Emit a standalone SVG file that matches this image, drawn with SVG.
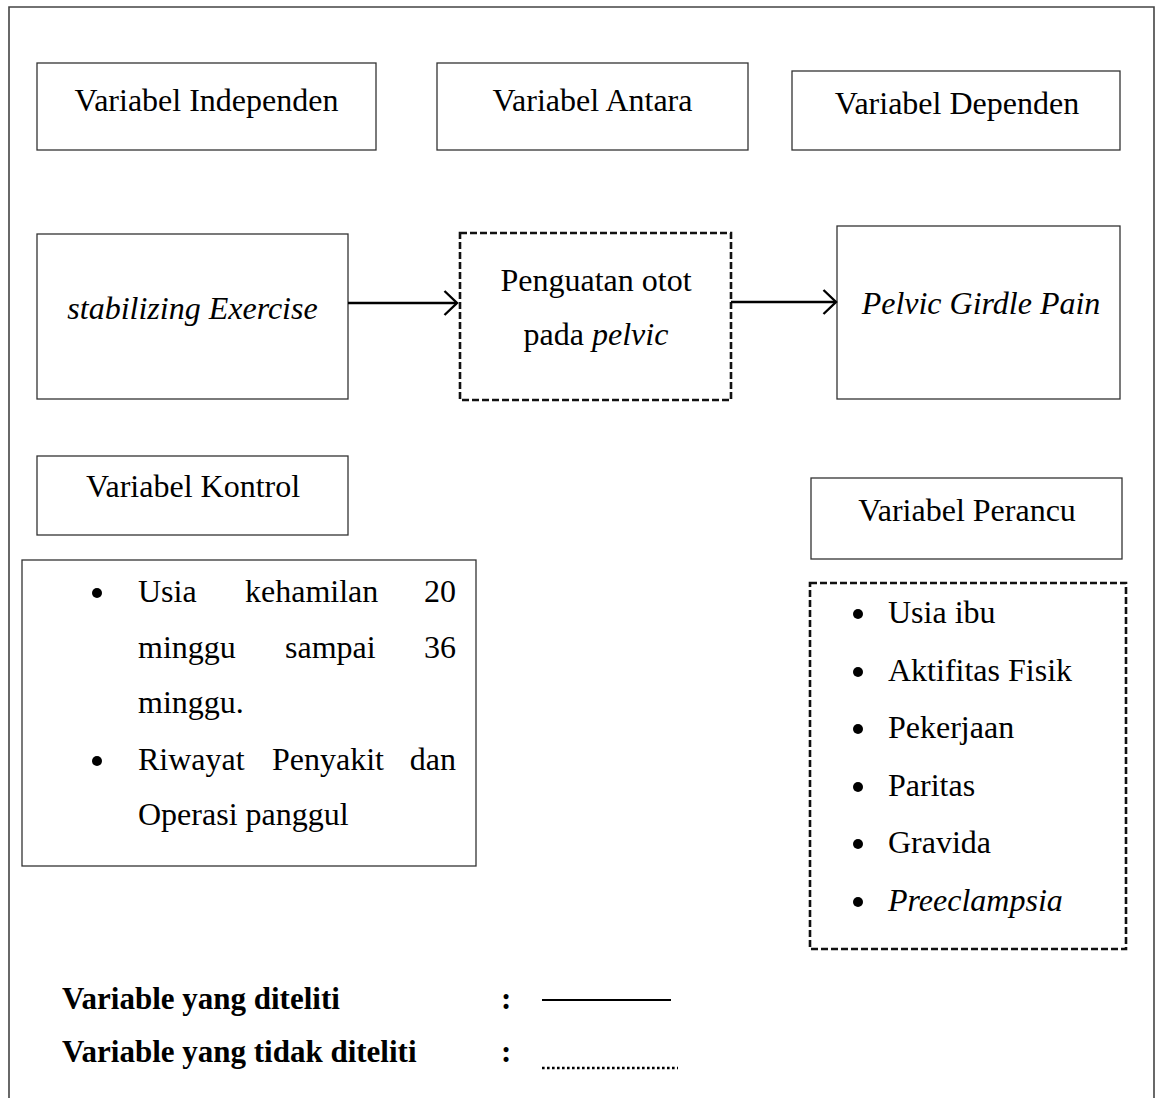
<svg xmlns="http://www.w3.org/2000/svg" width="1156" height="1098" viewBox="0 0 1156 1098">
<style>
text{font-family:"Liberation Serif","Times New Roman",serif;font-size:32px;fill:#000}
.c{text-anchor:middle}
.e{text-anchor:end}
.i{font-style:italic}
.b{font-weight:bold;font-size:31px}
.box{fill:#fff;stroke:#333;stroke-width:1.3}
.dbox{fill:#fff;stroke:#111;stroke-width:2.6;stroke-dasharray:7 3}
.conn{stroke:#000;stroke-width:2.4;fill:none}
.bul{fill:#000}
</style>
<defs>
<marker id="arr" markerWidth="16" markerHeight="28" refX="14" refY="14" orient="auto" markerUnits="userSpaceOnUse">
<path d="M1.5,2 L14,14 L1.5,26" fill="none" stroke="#000" stroke-width="2.4"/>
</marker>
</defs>
<rect width="1156" height="1098" fill="#fff"/>
<path id="frame" d="M9,1098 V7 H1154 V1098" fill="none" stroke="#444" stroke-width="1.6"/>

<g id="n-independen"><rect class="box" x="37" y="63" width="339" height="87"/><text class="c" x="206.5" y="111">Variabel Independen</text></g>
<g id="n-antara"><rect class="box" x="437" y="63" width="311" height="87"/><text class="c" x="592.5" y="111">Variabel Antara</text></g>
<g id="n-dependen"><rect class="box" x="792" y="71" width="328" height="79"/><text class="c" x="957" y="114">Variabel Dependen</text></g>

<g id="n-stabilizing"><rect class="box" x="37" y="234" width="311" height="165"/><text class="c i" x="192.5" y="319">stabilizing Exercise</text></g>
<g id="n-penguatan"><rect class="dbox" x="460" y="233" width="271" height="167"/><text class="c" x="596" y="291">Penguatan otot</text><text class="c" x="596" y="345">pada <tspan class="i">pelvic</tspan></text></g>
<g id="n-pgp"><rect class="box" x="837" y="226" width="283" height="173"/><text class="c i" x="981" y="314">Pelvic Girdle Pain</text></g>

<g id="n-kontrol"><rect class="box" x="37" y="456" width="311" height="79"/><text class="c" x="193" y="497">Variabel Kontrol</text></g>
<g id="n-perancu"><rect class="box" x="811" y="478" width="311" height="81"/><text class="c" x="967" y="521">Variabel Perancu</text></g>

<g id="n-kontrol-list"><rect class="box" x="22" y="560" width="454" height="306"/>
<circle class="bul" cx="97" cy="593" r="5"/>
<text x="138" y="602">Usia</text><text x="245" y="602">kehamilan</text><text class="e" x="456" y="602">20</text>
<text x="138" y="658">minggu</text><text x="285" y="658">sampai</text><text class="e" x="456" y="658">36</text>
<text x="138" y="713">minggu.</text>
<circle class="bul" cx="97" cy="761" r="5"/>
<text x="138" y="770">Riwayat</text><text x="272" y="770">Penyakit</text><text class="e" x="456" y="770">dan</text>
<text x="138" y="825">Operasi panggul</text>
</g>

<g id="n-perancu-list"><rect class="dbox" x="810" y="583" width="316" height="366"/>
<circle class="bul" cx="858" cy="614" r="5"/><text x="888" y="623">Usia ibu</text>
<circle class="bul" cx="858" cy="672" r="5"/><text x="888" y="681">Aktifitas Fisik</text>
<circle class="bul" cx="858" cy="729" r="5"/><text x="888" y="738">Pekerjaan</text>
<circle class="bul" cx="858" cy="787" r="5"/><text x="888" y="796">Paritas</text>
<circle class="bul" cx="858" cy="844" r="5"/><text x="888" y="853">Gravida</text>
<circle class="bul" cx="858" cy="902" r="5"/><text class="i" x="888" y="911">Preeclampsia</text>
</g>

<g id="connectors">
<line class="conn" x1="348" y1="303" x2="457" y2="303" marker-end="url(#arr)"/>
<line class="conn" x1="731" y1="302" x2="836" y2="302" marker-end="url(#arr)"/>
</g>

<g id="legend">
<text class="b" x="62" y="1009">Variable yang diteliti</text>
<text class="b" x="501" y="1009">:</text>
<line x1="542" y1="1000" x2="671" y2="1000" stroke="#000" stroke-width="1.8"/>
<text class="b" x="62" y="1062">Variable yang tidak diteliti</text>
<text class="b" x="501" y="1062">:</text>
<line x1="542" y1="1068" x2="678" y2="1068" stroke="#000" stroke-width="2.6" stroke-dasharray="2.6 2.4"/>
</g>
</svg>
